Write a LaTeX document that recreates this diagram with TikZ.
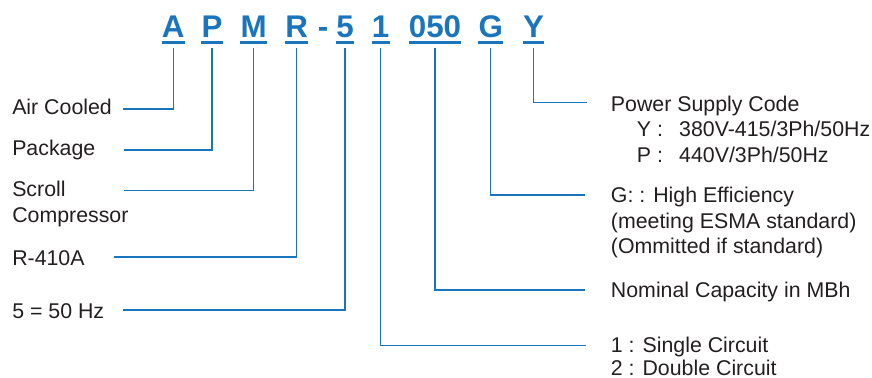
\documentclass[tikz,border=0pt]{standalone}
\usepackage{fontspec}
\setmainfont{Liberation Sans}
\usetikzlibrary{calc,positioning}
\definecolor{codeBlue}{RGB}{27,117,188}
\definecolor{labelGray}{RGB}{35,31,32}
\tikzset{
myCode/.style={
	inner sep=0pt, text depth=0pt, anchor=base,
	text=codeBlue, font=\fontsize{23.5}{28}\selectfont\bfseries
}
, myLabel/.style={
	inner sep=0pt, anchor=base west, text=labelGray,
	font=\fontsize{16}{19}\selectfont
}
% lines
, myUnder/.style={draw=codeBlue,line width=2pt}
, myLink/.style={draw=codeBlue,line width=1pt}
}

\begin{document}
\begin{tikzpicture}[x=0.75pt,y=-0.75pt]
	\useasboundingbox (0,0) rectangle (872,378);
	% model code
	\node[myCode] (cA) at (173.3,38) {A};
	\node[myCode] (cP) at (212,38) {P};
	\node[myCode] (cM) at (253.7,38) {M};
	\node[myCode] (cR) at (296.7,38) {R};
	\node[myCode] (cDash) at (323,38) {-};
	\node[myCode] (cFive) at (345,38) {5};
	\node[myCode] (cOne) at (380.7,38) {1};
	\node[myCode] (cCap) at (435,38) {050};
	\node[myCode] (cG) at (490.7,38) {G};
	\node[myCode] (cY) at (533.5,38) {Y};
	\foreach \c in {cA,cP,cM,cR,cFive,cOne,cCap,cG,cY}
		\draw[myUnder] ($(\c.south west)+(0,4)$) -- ($(\c.south east)+(0,4)$);

	% left labels
	\node[myLabel] (air) at (12,115) {Air Cooled};
	\node[myLabel] (pack) at (12,156) {Package};
	\node[myLabel] (scroll) at (12,196) {Scroll};
	\node[myLabel] (comp) at (12,222.3) {Compressor};
	\node[myLabel] (refr) at (12,265.5) {R-410A};
	\node[myLabel] (freq) at (12,318) {5 = 50 Hz};

	% right labels
	\node[myLabel] (power) at (610.7,111.5) {Power Supply Code};
	\node[myLabel] (powerY) at (636.7,137) {\makebox[31.7pt][l]{Y :}380V-415/3Ph/50Hz};
	\node[myLabel] (powerP) at (636.7,162.5) {\makebox[31.7pt][l]{P :}440V/3Ph/50Hz};
	\node[myLabel] (eff) at (610.7,202.7) {G: : High Efficiency};
	\node[myLabel] (effA) at (610.7,228.2) {(meeting ESMA standard)};
	\node[myLabel] (effB) at (610.7,253.7) {(Ommitted if standard)};
	\node[myLabel] (cap) at (610.7,297.7) {Nominal Capacity in MBh};
	\node[myLabel] (circ) at (610.7,352.2) {1 : Single Circuit};
	\node[myLabel] (circB) at (610.7,375.2) {2 : Double Circuit};

	% links
	\draw[myLink] ($(cA.south)+(0,10)$) |- ($(air.base west)+(111,-6)$);
	\draw[myLink] ($(cP.south)+(0,10)$) |- ($(pack.base west)+(112,-6)$);
	\draw[myLink] ($(cM.south)+(0,10)$) |- ($(scroll.base west)+(112,-5.5)$);
	\draw[myLink] ($(cR.south)+(0,10)$) |- ($(refr.base west)+(102,-8.5)$);
	\draw[myLink] ($(cFive.south)+(0,10)$) |- ($(freq.base west)+(111,-8)$);
	\draw[myLink] ($(cOne.south)+(0,10)$) |- ($(circ.base west)+(-24.5,-6.5)$);
	\draw[myLink] ($(cCap.south)+(0,10)$) |- ($(cap.base west)+(-25.5,-7.7)$);
	\draw[myLink] ($(cG.south)+(0,10)$) |- ($(eff.base west)+(-25.5,-7.7)$);
	\draw[myLink] ($(cY.south)+(0,10)$) |- ($(power.base west)+(-24,-8.8)$);
\end{tikzpicture}
\end{document}
